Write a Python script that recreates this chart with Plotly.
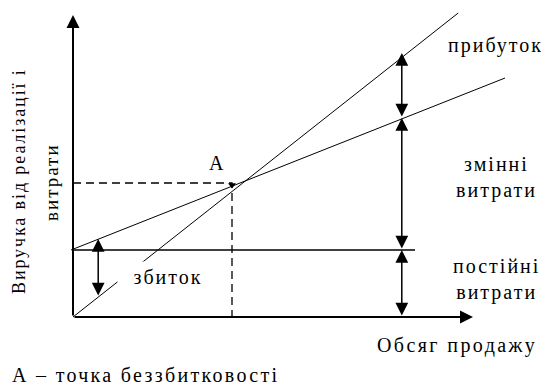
import plotly.graph_objects as go

# ---- data (conceptual units: volume q, money v) ----
revenue_q = [0, 9.63]
revenue_v = [0, 15.2]
cost_q = [-0.05, 10.8]
cost_v = [3.35, 11.95]
fixed_q = [0, 8.55]
fixed_v = [3.35, 3.35]
axis_x_end = 10.0
axis_y_end = 15.1
bep_q = 3.975
bep_v = 6.7
arrow_q = 8.22
arrow_levels = [13.2, 9.95, 3.35, 0.0]
loss_q = 0.63
loss_levels = [3.9, 1.0]

FONT = "Liberation Serif, Times New Roman, serif"
BLACK = "#000000"

fig = go.Figure()

# total cost line and revenue line
fig.add_trace(go.Scatter(x=cost_q, y=cost_v, mode="lines",
                         line=dict(color=BLACK, width=1)))
fig.add_trace(go.Scatter(x=revenue_q, y=revenue_v, mode="lines",
                         line=dict(color=BLACK, width=1)))
# fixed cost line
fig.add_trace(go.Scatter(x=fixed_q, y=fixed_v, mode="lines",
                         line=dict(color=BLACK, width=1.3)))
# dashed guides to break-even point
fig.add_trace(go.Scatter(x=[0, bep_q, bep_q], y=[bep_v, bep_v, -0.15], mode="lines",
                         line=dict(color=BLACK, width=1.3, dash="8px,5px")))
fig.add_trace(go.Scatter(x=[bep_q], y=[bep_v - 0.1], mode="markers",
                         marker=dict(symbol="triangle-down", size=7, color=BLACK)))

def arrow(x0, y0, x1, y1, double=True, width=1.5, size=1.7, head=2):
    a = dict(x=x1, y=y1, ax=x0, ay=y0, xref="x", yref="y", axref="x", ayref="y",
             text="", showarrow=True, arrowhead=head, arrowsize=size,
             arrowwidth=width, arrowcolor=BLACK, standoff=0, startstandoff=0)
    if double:
        a.update(arrowside="end+start", startarrowhead=head, startarrowsize=size)
    fig.add_annotation(**a)

# axes with arrows
arrow(0, 0, 0, axis_y_end, double=False, width=2, size=1.3)
arrow(0, 0, axis_x_end, 0, double=False, width=2, size=1.3)

# right-hand double arrows
for top, bottom in zip(arrow_levels[:-1], arrow_levels[1:]):
    arrow(arrow_q, bottom, arrow_q, top)
# loss arrow
arrow(loss_q, loss_levels[1], loss_q, loss_levels[0])

def spaced(text, sp):
    return "<br>".join(f'<span style="letter-spacing:{sp}px">{t}</span>'
                       for t in text.split("<br>"))

def label(text, q, v, size=20, angle=0, xanchor="center", sp=2, **kw):
    fig.add_annotation(x=q, y=v, xref="x", yref="y", text=spaced(text, sp),
                       showarrow=False,
                       font=dict(family=FONT, size=size, color=BLACK),
                       textangle=angle, xanchor=xanchor, **kw)

label("прибуток", 10.55, 13.6)
label("змінні<br>витрати", 10.575, 6.97)
label("постійні<br>витрати", 10.575, 1.875)
label("Обсяг продажу", 9.6, -1.4, sp=2.4)
label("А", 3.6, 7.7)
label("збиток", 2.375, 2.0, bgcolor="white", width=100, height=30, borderpad=0)
label("А – точка беззбитковості", -1.575, -2.9, xanchor="left", sp=2.3)
label("Виручка від реалізації і", -1.35, 6.8, size=18, angle=-90, sp=1.9)
label("витрати", -0.55, 6.75, size=19, angle=-90, sp=2)

# figure is placed 8px from the page corner (default body margin)
fig.update_layout(
    width=541, height=380,
    margin=dict(l=0, r=0, t=0, b=0),
    paper_bgcolor="white", plot_bgcolor="white",
    showlegend=False,
    xaxis=dict(range=[-1.625, 11.9], visible=False, fixedrange=True),
    yaxis=dict(range=[-3.55, 15.45], visible=False, fixedrange=True),
)

fig.write_html("out.html", config={"displayModeBar": False})
